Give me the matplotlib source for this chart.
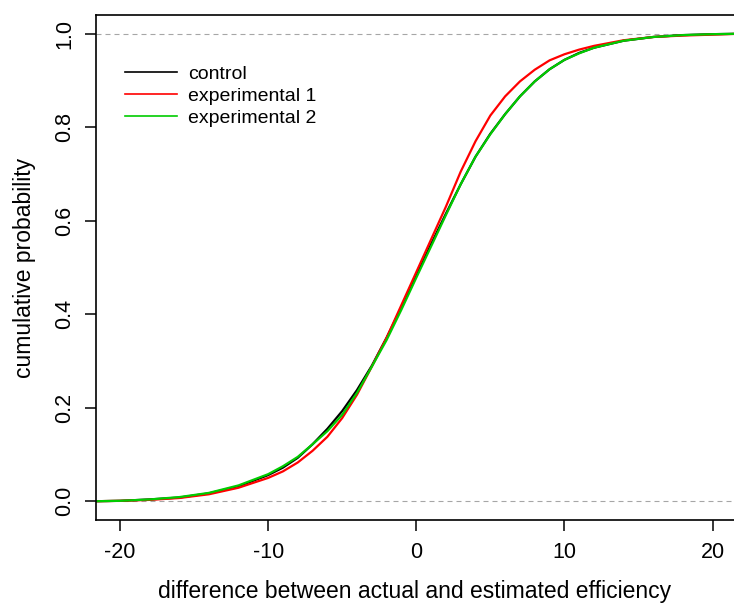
import numpy as np
import matplotlib
matplotlib.use("Agg")
import matplotlib.pyplot as plt

plt.rcParams['font.family'] = ['Liberation Sans', 'DejaVu Sans']
plt.rcParams['axes.unicode_minus'] = False

# values
diff = [-22, -20, -18, -16, -14, -12, -10, -9, -8, -7, -6, -5, -4, -3, -2, -1,
        0, 1, 2, 3, 4, 5, 6, 7, 8, 9, 10, 11, 12, 14, 16, 18, 20, 22]
control = [0.0, 0.001, 0.004, 0.008, 0.017, 0.032, 0.056, 0.072, 0.093, 0.122,
           0.155, 0.193, 0.238, 0.29, 0.35, 0.415, 0.483, 0.55, 0.615, 0.678,
           0.737, 0.786, 0.828, 0.866, 0.898, 0.924, 0.944, 0.959, 0.97, 0.985,
           0.993, 0.997, 0.999, 1.0]
exp1 = [0.0, 0.001, 0.003, 0.007, 0.015, 0.029, 0.05, 0.064, 0.083, 0.108,
        0.138, 0.178, 0.228, 0.288, 0.35, 0.42, 0.49, 0.56, 0.63, 0.705,
        0.77, 0.825, 0.866, 0.898, 0.923, 0.943, 0.956, 0.966, 0.974, 0.986,
        0.993, 0.996, 0.998, 1.0]
exp2 = [0.0, 0.001, 0.004, 0.009, 0.018, 0.034, 0.058, 0.075, 0.095, 0.122,
        0.15, 0.185, 0.232, 0.288, 0.345, 0.41, 0.478, 0.545, 0.612, 0.678,
        0.737, 0.785, 0.828, 0.866, 0.898, 0.924, 0.944, 0.958, 0.97, 0.985,
        0.993, 0.997, 0.999, 1.0]
labels = ['control', 'experimental 1', 'experimental 2']
colors = ['black', '#ff0000', '#00cc00']

fig = plt.figure(figsize=(7.34, 6.04), dpi=100)
ax = fig.add_axes([96/734, 84/604, 638/734, 505/604])

for yy in [0, 1]:
    ax.axhline(yy, color='#a6a6a6', lw=0.8, ls=(0, (4.5, 3.6)), zorder=1)

for ys, c, lab in zip([control, exp1, exp2], colors, labels):
    ax.plot(diff, ys, color=c, lw=1.6, label=lab, zorder=2)

ax.set_xlim(-21.62, 21.45)
ax.set_ylim(-0.04, 1.04)
ax.set_xticks([-20, -10, 0, 10, 20])
ax.set_yticks([0, 0.2, 0.4, 0.6, 0.8, 1.0])
ax.set_yticklabels(['0.0', '0.2', '0.4', '0.6', '0.8', '1.0'])
for t in ax.get_yticklabels():
    t.set_rotation(90)
    t.set_va('center')
ax.tick_params(length=8, width=1.1, labelsize=15.5, pad=8)
ax.tick_params(axis='y', pad=7)
ax.spines['right'].set_visible(False)
for s in ['left', 'bottom', 'top']:
    ax.spines[s].set_linewidth(1.2)

ax.set_xlabel('difference between actual and estimated efficiency', fontsize=16.5, labelpad=12)
ax.set_ylabel('cumulative probability', fontsize=16.5, labelpad=13)

leg = ax.legend(loc='upper left', bbox_to_anchor=(0.045, 0.9), frameon=False,
                fontsize=14, handlelength=2.7, handletextpad=0.55,
                labelspacing=0.22, borderpad=0, borderaxespad=0)
for h in leg.get_lines():
    h.set_linewidth(1.2)

fig.savefig('out.png', dpi=100)
